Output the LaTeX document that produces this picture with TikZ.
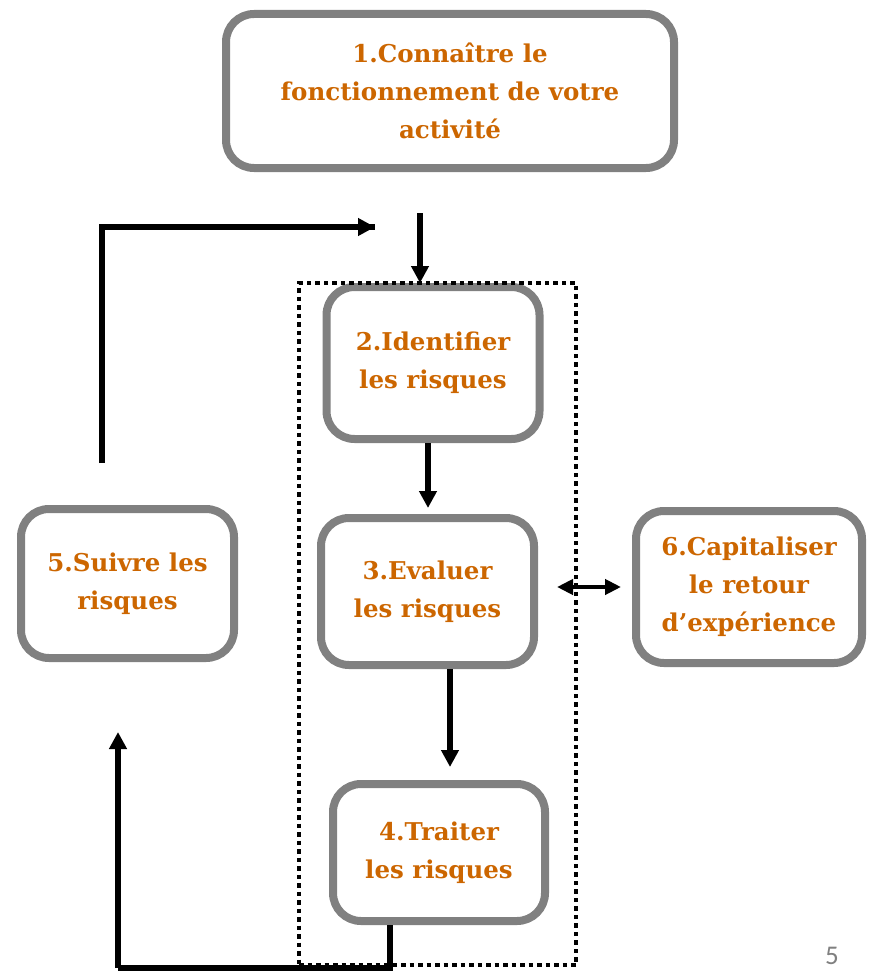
\documentclass[tikz,border=0pt]{standalone}
\usepackage{fontspec}
\setmainfont{DejaVu Serif}
\newfontfamily\pagefont{Carlito}
\usepackage{xcolor}
\definecolor{StepOrange}{HTML}{CC6600}
\definecolor{StepGrey}{HTML}{808080}
\usetikzlibrary{arrows.meta,positioning}

\begin{document}
\begin{tikzpicture}[
  x=1pt,y=-1pt,
  stepbox/.style={rounded corners=28pt,draw=StepGrey,fill=white,line width=8pt,align=center,text=StepOrange,font=\fontsize{24.5}{38}\selectfont\bfseries,inner sep=0pt,minimum width=213pt,minimum height=152pt},
  flow/.style={-{Triangle[length=17pt,width=17pt]},line width=5.5pt},
  both/.style={{Triangle[length=16pt,width=15pt]}-{Triangle[length=16pt,width=15pt]},line width=4.5pt},
  zone/.style={draw,line width=4.5pt,dash pattern=on 4.5pt off 4pt,inner sep=0pt}
]
\useasboundingbox (0,0) rectangle (868,971);
\node[stepbox,minimum width=448pt,minimum height=154pt] (activite) at (450,91) {1.Connaître le\\fonctionnement de votre\\activité};
\node[stepbox] (identifier) at (433,363) {2.Identifier\\les risques};
\node[stepbox,minimum height=147pt] (evaluer) at (427.5,591.5) {3.Evaluer\\les risques};
\node[stepbox,minimum width=212pt,minimum height=137pt] (traiter) at (439,852.5) {4.Traiter\\les risques};
\node[stepbox,minimum height=149pt] (suivre) at (127.5,583.5) {5.Suivre les\\risques};
\node[stepbox,minimum width=226pt] (capitaliser) at (749,587) {6.Capitaliser\\le retour\\d’expérience};
\node[zone,minimum width=277pt,minimum height=682pt] (cadre) at (437.5,624) {};
\node[text=StepGrey,font=\pagefont\fontsize{27}{27}\selectfont] (page) at (832,956) {5};
% fleches
\coordinate (depart) at (420,213);
\coordinate (retour) at (102,463);
\coordinate (entree) at (375,227);
\coordinate (bas) at (118,968);
\coordinate (suivi) at (118,732);
\draw[flow] (depart) -- (depart |- identifier.north);
\draw[flow,shorten >=6pt] (identifier.south -| 428,0) -- (evaluer.north -| 428,0);
\draw[flow,shorten >=13pt] (evaluer.south -| 450,0) -- (traiter.north -| 450,0);
\draw[line width=5.5pt] (retour) -- (retour |- entree) -- (entree);
\draw[flow] (retour |- entree) -- (entree);
\draw[line width=5.5pt] (traiter.south -| 390,0) -- (390,968) -- (bas);
\draw[flow] (bas) -- (suivi);
\draw[both] (557,587) -- (621,587);
\end{tikzpicture}
\end{document}
